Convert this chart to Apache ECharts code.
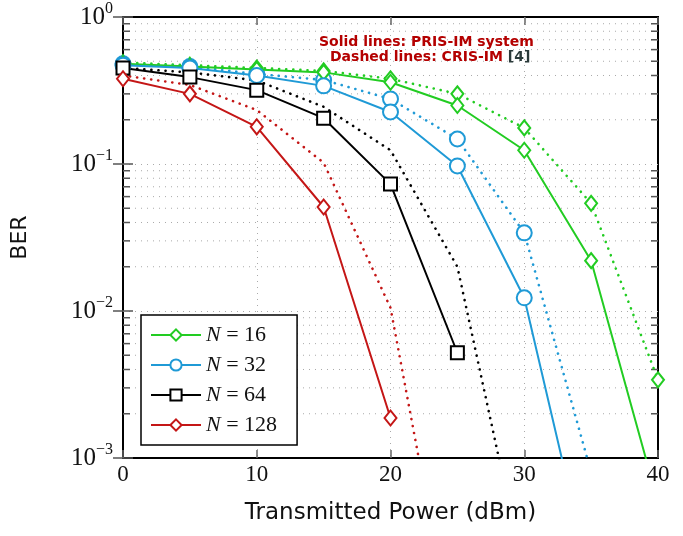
<!DOCTYPE html>
<html>
<head>
<meta charset="utf-8">
<script src="https://cdn.jsdelivr.net/npm/echarts@6/dist/echarts.min.js"></script>
<style>html,body{margin:0;padding:0;background:#fff}#chart{width:683px;height:536px}</style>
</head>
<body>
<div id="chart"></div>
<script>
// transmitted power (dBm)
const powerDbm = [0, 5, 10, 15, 20, 25, 30, 35, 40];
const legendNames = ['N = 16', 'N = 32', 'N = 64', 'N = 128'];

// solid lines: PRIS-IM system
const prisN16 = [0.48, 0.46, 0.44, 0.42, 0.36, 0.25, 0.124, 0.022, 0.0005];
const prisN32 = [0.47, 0.45, 0.40, 0.34, 0.226, 0.097, 0.0123, 0.00014];
const prisN64 = [0.45, 0.39, 0.318, 0.205, 0.073, 0.0052];
const prisN128 = [0.38, 0.30, 0.179, 0.051, 0.00187];

// dashed lines: CRIS-IM [4]
const crisN16 = [0.49, 0.47, 0.45, 0.43, 0.38, 0.30, 0.176, 0.054, 0.0034];
const crisN32 = [0.48, 0.46, 0.41, 0.373, 0.277, 0.148, 0.034, 0.0008];
const crisN64 = [0.45, 0.42, 0.37, 0.245, 0.124, 0.020, 0.00016];
const crisN128 = [0.40, 0.345, 0.233, 0.102, 0.0105, 0.00004];

// log minor grid values
const minorGrid = [0.002, 0.003, 0.004, 0.005, 0.006, 0.007, 0.008, 0.009,
  0.02, 0.03, 0.04, 0.05, 0.06, 0.07, 0.08, 0.09,
  0.2, 0.3, 0.4, 0.5, 0.6, 0.7, 0.8, 0.9];

const GREEN = '#22cc22', BLUE = '#1f9ad6', BLACK = '#000000', RED = '#c41616';
const serif = 'Liberation Serif';

function pairs(vals) {
  return vals.map((v, i) => [powerDbm[i], v]);
}

function solid(name, color, symbol, size, vals) {
  return {
    name, type: 'line', data: pairs(vals), z: 4,
    symbol, symbolSize: size,
    lineStyle: { color, width: 2 },
    itemStyle: { color, borderWidth: 2 },
    emphasis: { disabled: true }
  };
}

function dotted(name, color, symbol, size, vals) {
  return {
    name, type: 'line', data: pairs(vals), z: 3,
    symbol, symbolSize: size,
    lineStyle: { color, width: 2.6, type: [0.1, 7], cap: 'round' },
    itemStyle: { color, borderWidth: 2 },
    emphasis: { disabled: true }
  };
}

const chart = echarts.init(document.getElementById('chart'));

const option = {
  animation: false,
  grid: { left: 123, right: 25, top: 17, bottom: 78, show: true, borderColor: '#000', borderWidth: 2 },
  graphic: [
    { type: 'text', left: 319, top: 35, z: 10, style: { text: 'Solid lines: PRIS-IM system', fill: '#b40000', font: 'bold 14px DejaVu Sans' } },
    { type: 'text', left: 330, top: 50, z: 10, style: {
      text: 'Dashed lines: CRIS-IM {r|[4]}', fill: '#b40000', font: 'bold 14px DejaVu Sans',
      rich: { r: { fill: '#2a3a3a', font: 'bold 14px DejaVu Sans' } }
    } }
  ],
  legend: {
    data: legendNames,
    orient: 'vertical',
    left: 141, top: 315,
    padding: [9, 20, 9, 9],
    itemGap: 8,
    itemWidth: 50, itemHeight: 14,
    backgroundColor: '#fff',
    borderColor: '#000', borderWidth: 1.5,
    formatter: n => '{i|N}{t| = ' + n.split('= ')[1] + '}',
    textStyle: {
      color: '#111',
      rich: {
        i: { fontFamily: serif, fontStyle: 'italic', fontSize: 22 },
        t: { fontFamily: serif, fontSize: 22 }
      }
    }
  },
  xAxis: [{
    type: 'value', min: 0, max: 40, interval: 10,
    name: 'Transmitted Power (dBm)', nameLocation: 'middle', nameGap: 44,
    nameTextStyle: { fontFamily: 'DejaVu Sans', fontSize: 23, color: '#111' },
    axisLine: { show: false },
    axisTick: { inside: true, length: 8, lineStyle: { color: '#666', width: 1.5 } },
    axisLabel: { fontFamily: serif, fontSize: 23, color: '#111', margin: 5 },
    splitLine: { show: true, showMinLine: false, showMaxLine: false, lineStyle: { color: '#aaa', type: [1, 5] } }
  }, {
    type: 'value', min: 0, max: 40, interval: 10, position: 'top',
    axisLine: { show: false },
    axisTick: { inside: true, length: 8, lineStyle: { color: '#666', width: 1.5 } },
    axisLabel: { show: false }, splitLine: { show: false }
  }],
  yAxis: [{
    type: 'log', logBase: 10, min: 0.001, max: 1,
    name: 'BER', nameLocation: 'middle', nameGap: 92,
    nameTextStyle: { fontFamily: 'DejaVu Sans', fontSize: 22, color: '#111' },
    axisLine: { show: false },
    axisTick: { inside: true, length: 10, lineStyle: { color: '#555', width: 1.5 } },
    axisLabel: {
      margin: 10, color: '#111',
      formatter: v => {
        const e = Math.round(Math.log10(v));
        return '{b|10}{e|' + (e === 0 ? '0' : '\u2212' + (-e)) + '}';
      },
      rich: {
        b: { fontFamily: serif, fontSize: 25 },
        e: { fontFamily: serif, fontSize: 16, padding: [0, 0, 16, 0] }
      }
    },
    splitLine: { show: true, showMinLine: false, showMaxLine: false, lineStyle: { color: '#aaa', type: [1, 5] } }
  }, {
    type: 'log', logBase: 10, min: 0.001, max: 1, position: 'right',
    axisLine: { show: false },
    axisTick: { inside: true, length: 10, lineStyle: { color: '#555', width: 1.5 } },
    axisLabel: { show: false }, splitLine: { show: false }
  }],
  series: [
    solid('N = 16', GREEN, 'emptyDiamond', [12, 15], prisN16),
    solid('N = 32', BLUE, 'emptyCircle', 15, prisN32),
    solid('N = 64', BLACK, 'emptyRect', 13, prisN64),
    solid('N = 128', RED, 'emptyDiamond', [12, 15], prisN128),
    dotted('CRIS N = 16', GREEN, 'emptyDiamond', [12, 15], crisN16),
    dotted('CRIS N = 32', BLUE, 'emptyCircle', 15, crisN32),
    dotted('CRIS N = 64', BLACK, 'none', 0, crisN64),
    dotted('CRIS N = 128', RED, 'none', 0, crisN128),
    {
      type: 'custom', silent: true, z: 1,
      data: minorGrid.map(v => [0, v]),
      renderItem: (params, api) => {
        const cs = params.coordSys;
        const y = api.coord([0, api.value(1)])[1];
        return {
          type: 'group', children: [
            { type: 'line', shape: { x1: cs.x, y1: y, x2: cs.x + cs.width, y2: y }, style: { stroke: '#aaa', lineWidth: 1, lineDash: [1, 5] } },
            { type: 'line', shape: { x1: cs.x, y1: y, x2: cs.x + 7, y2: y }, style: { stroke: '#555', lineWidth: 1.5 } },
            { type: 'line', shape: { x1: cs.x + cs.width - 7, y1: y, x2: cs.x + cs.width, y2: y }, style: { stroke: '#555', lineWidth: 1.5 } }
          ]
        };
      }
    }
  ]
};

chart.setOption(option);
</script>
</body>
</html>
